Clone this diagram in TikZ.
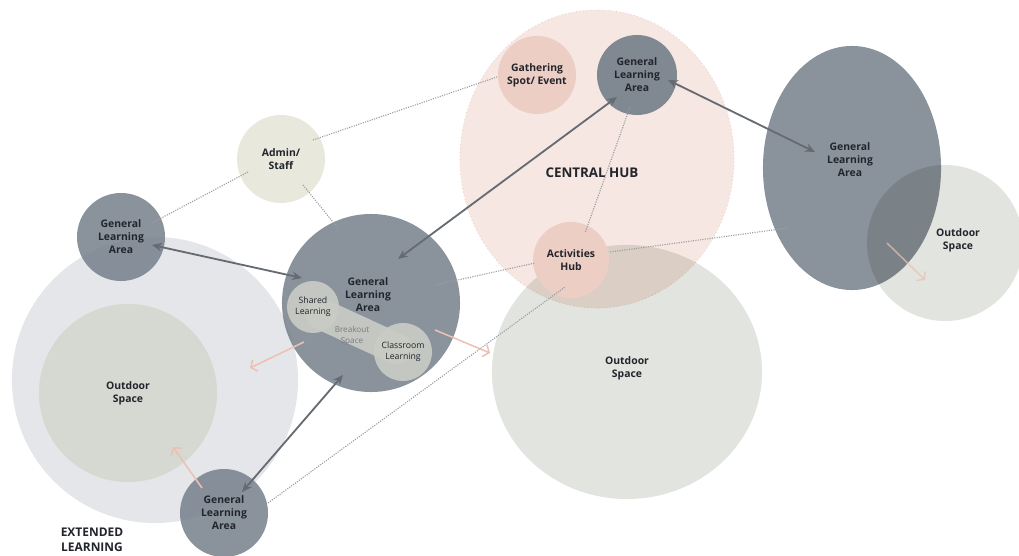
\documentclass[tikz,border=0pt]{standalone}
\usepackage{fontspec}
\setmainfont{Open Sans}
\usepackage{xcolor}
\usetikzlibrary{positioning,shapes.geometric,arrows.meta,calc}

\definecolor{inkdark}{HTML}{22252B}
\definecolor{glagrey}{HTML}{76808B}
\definecolor{extgrey}{HTML}{E5E6E9}
\definecolor{outgreen}{HTML}{D6D8D2}
\definecolor{outlight}{HTML}{E2E4DF}
\definecolor{hubpink}{HTML}{F6E7E2}
\definecolor{hubedge}{HTML}{E6D2CB}
\definecolor{spotpink}{HTML}{ECCEC5}
\definecolor{adminbeige}{HTML}{E8E8DD}
\definecolor{nookgrey}{HTML}{C9CCC5}
\definecolor{arrowgrey}{HTML}{666B72}
\definecolor{blush}{HTML}{EDC0B2}
\definecolor{dotgrey}{HTML}{9A9EA4}

\begin{document}
\begin{tikzpicture}[
  x=0.025cm, y=-0.025cm,
  font=\bfseries\fontsize{7.4}{9.2}\selectfont,
  text=inkdark,
  area/.style={circle, inner sep=0pt, align=center, minimum size=#1*0.05cm},
  oval/.style 2 args={ellipse, inner sep=0pt, align=center, minimum width=#1*0.05cm, minimum height=#2*0.05cm},
  gla/.style={fill=glagrey, fill opacity=0.85, text opacity=1},
  outdoor/.style={fill=outlight, blend mode=multiply},
  nook/.style={area=#1, fill=nookgrey, fill opacity=0.9, text opacity=1, font=\fontsize{6.2}{7.8}\selectfont},
  txt/.style={align=center, inner sep=0pt},
  duo/.style={{Stealth[length=7pt,width=6pt]}-{Stealth[length=7pt,width=6pt]}, draw=arrowgrey, line width=1.3pt},
  hint/.style={-{Straight Barb[length=3.5pt,width=9pt]}, draw=blush, line width=1.1pt},
  link/.style={draw=dotgrey, line width=0.8pt, dash pattern=on 0.8pt off 0.9pt},
]
\useasboundingbox (0,0) rectangle (1019,556);

% extended learning zone
\node[area=143, fill=extgrey] (ext) at (155,380) {};
\node[area=89, fill=outgreen] (outL) at (128,393) {Outdoor\\Space};
\node[area=44, gla] (glaW) at (121,237) {General\\Learning\\Area};
\node[area=44, gla] (glaS) at (224,513) {General\\Learning\\Area};
\node[txt, font=\bfseries\fontsize{8.5}{10.6}\selectfont] (extlbl) at (92,540) {EXTENDED\\LEARNING};

% central hub
\node[oval={137}{149}, fill=hubpink, draw=hubedge, line width=0.6pt, dotted] (hub) at (597,159) {};
\node[txt, font=\bfseries\fontsize{9.5}{11}\selectfont] (hublbl) at (592,173) {CENTRAL HUB};
\node[oval={135}{127}, outdoor] (outC) at (627,372) {};
\node[txt] (outCtxt) at (627,368) {Outdoor\\Space};
\node[area=38, fill=spotpink] (act) at (571,260) {Activities\\Hub};
\node[area=39, fill=spotpink] (gather) at (537,75) {Gathering\\Spot/ Event};
\node[area=40, fill=glagrey, fill opacity=0.92, text opacity=1] (glaN) at (637,75) {General\\Learning\\Area};

% admin
\node[area=44, fill=adminbeige] (admin) at (281,159) {Admin/\\Staff};

% main learning area with nooks
\node[area=89, gla] (glaC) at (371,303) {};
\node[txt] (glaCtxt) at (368,295) {General\\Learning\\Area};
\coordinate (sharedpt) at (313,307);
\coordinate (classpt) at (403,352);
\draw[nookgrey, opacity=0.9, line width=22pt, line cap=round]
  ($(sharedpt)+(8,7)$) -- ($(classpt)+(-6,-3)$);
\node[nook=26] (shared) at (sharedpt) {Shared\\Learning};
\node[nook=29] (classroom) at (classpt) {Classroom\\Learning};
\node[txt, font=\fontsize{5.8}{7.3}\selectfont, text=inkdark!60] (breakout) at (352,336) {Breakout\\Space};

% east wing
\node[oval={89}{122}, gla] (glaE) at (852,168) {};
\node[txt] (glaEtxt) at (850,160) {General\\Learning\\Area};
\node[area=78, outdoor] (outE) at (945,243) {};
\node[txt] (outEtxt) at (958,240) {Outdoor\\Space};

% dotted links
\foreach \a/\da/\b/\db in {glaW/{31,-14}/admin/{-33,13}, admin/{32,-19}/gather/{-40,2},
    admin/{22,26}/glaC/{-34,-76}, glaC/{64,-18}/act/{-36,3}, act/{39,-8}/glaE/{-64,60},
    glaN/{-7,32}/act/{14,-27}, glaS/{44,-10}/act/{-6,27}} {
  \draw[link] ($(\a)+(\da)$) -- ($(\b)+(\db)$);
}

% circulation arrows
\draw[duo] ($(glaW)+(31,8)$) -- ($(glaC)+(-69,-25)$);
\draw[duo] ($(glaC)+(27,-44)$) -- ($(glaN)+(-20,22)$);
\draw[duo] ($(glaN)+(31,5)$) -- ($(glaE)+(-37,-16)$);
\draw[duo] ($(glaC)+(-28,72)$) -- ($(glaS)+(18,-21)$);

% spill-out to outdoor space
\draw[hint] ($(glaC)+(64,27)$) -- ($(glaC)+(119,50)$);
\draw[hint] ($(glaC)+(-67,39)$) -- ($(glaC)+(-121,65)$);
\draw[hint] ($(glaS)+(-22,-25)$) -- ($(outL)+(45,54)$);
\draw[hint, draw opacity=0.7] ($(outE)+(-58,0)$) -- ($(outE)+(-20,37)$);
\end{tikzpicture}
\end{document}
